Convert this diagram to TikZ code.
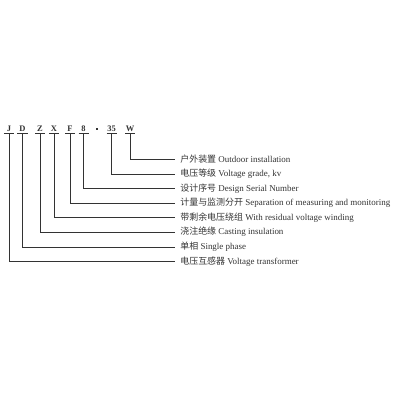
\documentclass[tikz,border=0pt]{standalone}
\usepackage{fontspec}
\setmainfont{Liberation Serif}
\newfontfamily\cjk{Noto Sans CJK SC}

\begin{document}
\begin{tikzpicture}[x=1bp,y=-1bp,inner sep=0pt,color=black!80,line width=0.7bp,
  codechar/.style={font=\fontsize{8.5}{8.5}\selectfont\bfseries,anchor=base},
  meaning/.style={font=\fontsize{9}{9}\selectfont,anchor=west}]
\useasboundingbox(0,0) rectangle (400,400);
% type code
\node[codechar] (J) at (9,131) {J};
\node[codechar] (D) at (22.5,131) {D};
\node[codechar] (Z) at (40,131) {Z};
\node[codechar] (X) at (54,131) {X};
\node[codechar] (F) at (70,131) {F};
\node[codechar] (N8) at (83.5,131) {8};
\fill (95.5,127.5) rectangle (97.5,129.5);
\node[codechar] (N35) at (111.5,131) {35};
\node[codechar] (W) at (130,131) {W};
% meanings
\node[meaning] (mW) at (180,159) {{\cjk 户外装置} Outdoor installation};
\node[meaning] (m35) at (180,174) {{\cjk 电压等级} Voltage grade, kv};
\node[meaning] (m8) at (180,188.5) {{\cjk 设计序号} Design Serial Number};
\node[meaning] (mF) at (180,203) {{\cjk 计量与监测分开} Separation of measuring and monitoring};
\node[meaning] (mX) at (180,217.5) {{\cjk 带剩余电压绕组} With residual voltage winding};
\node[meaning] (mZ) at (180,232) {{\cjk 浇注绝缘} Casting insulation};
\node[meaning] (mD) at (180,247) {{\cjk 单相} Single phase};
\node[meaning] (mJ) at (180,261.7) {{\cjk 电压互感器} Voltage transformer};
% leaders
\foreach \c/\m in {J/mJ,D/mD,Z/mZ,X/mX,F/mF,N8/m8,N35/m35,W/mW} {
  \draw ([xshift=-5bp,yshift=-2.5bp]\c.base) -- ([xshift=5bp,yshift=-2.5bp]\c.base);
  \draw ([yshift=-2.5bp]\c.base) |- ([xshift=-5bp]\m.west);
}
\end{tikzpicture}
\end{document}
